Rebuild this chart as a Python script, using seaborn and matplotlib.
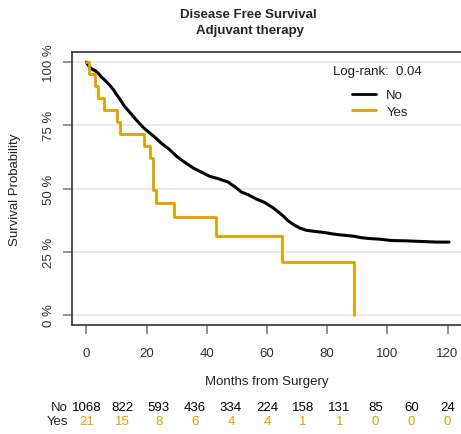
import numpy as np
import pandas as pd
import matplotlib
matplotlib.use("Agg")
import matplotlib.pyplot as plt
import seaborn as sns
from matplotlib.lines import Line2D
from matplotlib.transforms import blended_transform_factory

# ---- data ----
no_time = [0, 0.5, 1.5, 3, 4, 5, 6, 7, 8, 9, 10, 11, 12.6, 14.5, 16.5, 19, 21,
           23, 25, 27.5, 30, 32.5, 35.5, 38, 41, 44, 47, 49.5, 51.5, 54, 56.5,
           59, 62, 64, 65.5, 67, 69, 71, 73, 76, 79, 82, 84, 89, 91, 94, 97,
           101.5, 106, 116.3, 120.5]
no_surv = [1.0, 0.99, 0.975, 0.965, 0.955, 0.94, 0.93, 0.918, 0.905, 0.89,
           0.872, 0.855, 0.826, 0.80, 0.772, 0.740, 0.72, 0.70, 0.678, 0.655,
           0.627, 0.605, 0.581, 0.566, 0.548, 0.538, 0.526, 0.505, 0.486, 0.474,
           0.458, 0.446, 0.424, 0.405, 0.39, 0.372, 0.356, 0.343, 0.335, 0.330,
           0.326, 0.320, 0.317, 0.311, 0.306, 0.302, 0.300, 0.294, 0.293, 0.288,
           0.288]
yes_time = [0, 1, 3, 3.7, 5.7, 10, 11, 19, 21, 22, 23.2, 29, 43, 65, 89]
yes_surv = [1.0, 0.952, 0.905, 0.857, 0.810, 0.762, 0.714, 0.667, 0.619, 0.495,
            0.443, 0.387, 0.312, 0.209, 0.0]

risk_times = [0, 12, 24, 36, 48, 60, 72, 84, 96, 108, 120]
risk_no = [1068, 822, 593, 436, 334, 224, 158, 131, 85, 60, 24]
risk_yes = [21, 15, 8, 6, 4, 4, 1, 1, 0, 0, 0]
groups = ["No", "Yes"]
y_ticks = [0, 0.25, 0.5, 0.75, 1.0]
y_tick_labels = ["0 %", "25 %", "50 %", "75 %", "100 %"]
x_ticks = [0, 20, 40, 60, 80, 100, 120]

df_no = pd.DataFrame({"time": no_time, "surv": no_surv, "group": "No"})
df_yes = pd.DataFrame({"time": yes_time, "surv": yes_surv, "group": "Yes"})

sns.set_style("white")
plt.rcParams["font.family"] = ["Liberation Sans", "DejaVu Sans"]

W, H = 461, 435
fig = plt.figure(figsize=(W / 100, H / 100), dpi=100)
ax = fig.add_axes([72 / W, (H - 326) / H, 390 / W, 273 / H])

colors = {"No": "black", "Yes": "#E69F00"}
# the large group has many tiny steps: drawn as a line through read points
sns.lineplot(data=df_no, x="time", y="surv", color=colors["No"],
             estimator=None, sort=False, linewidth=2.2, ax=ax, zorder=3)
sns.lineplot(data=df_yes, x="time", y="surv", color=colors["Yes"],
             drawstyle="steps-post", estimator=None, sort=False,
             linewidth=2, ax=ax, zorder=3)

ax.set_xlim(-4.8, 124.8)
ax.set_ylim(-0.04, 1.04)
for y in y_ticks:
    ax.axhline(y, color="#E6E6E6", lw=1.2, zorder=1)

ax.set_xticks(x_ticks)
ax.set_xticklabels([str(x) for x in x_ticks])
ax.set_yticks(y_ticks)
ax.set_yticklabels(y_tick_labels, rotation=90, va="center")
ax.tick_params(axis="both", direction="out", length=6.5, width=1.2,
               color="#808080", labelsize=9.5, labelcolor="#333333",
               bottom=True, left=True)
ax.tick_params(axis="x", pad=9)
ax.tick_params(axis="y", pad=6)
ax.set_xlabel("")
ax.set_ylabel("")
for s in ["left", "bottom", "top"]:
    ax.spines[s].set_color("#333333")
    ax.spines[s].set_linewidth(1.2)
ax.spines["right"].set_visible(False)

handles = [Line2D([], [], color=colors[g], lw=2) for g in groups]
ax.legend(handles, groups, loc="upper left",
          bbox_to_anchor=(352 / W, 1 - 90 / H), bbox_transform=fig.transFigure,
          frameon=False, fontsize=9.5, handlelength=1.8, handletextpad=0.8,
          labelspacing=0.35, borderpad=0, borderaxespad=0)

fig.text(333 / W, 1 - 72 / H, "Log-rank:  0.04", fontsize=9.5, color="#222222",
         ha="left", va="center")

fig.text(248 / W, 1 - 15 / H, "Disease Free Survival", fontsize=9.5,
         fontweight="bold", ha="center", va="center")
fig.text(250 / W, 1 - 31 / H, "Adjuvant therapy", fontsize=9.5,
         fontweight="bold", ha="center", va="center")

fig.text(267 / W, 1 - 382 / H, "Months from Surgery", fontsize=9.5,
         ha="center", va="center", color="#222222")
fig.text(15 / W, 1 - 190 / H, "Survival Probability", fontsize=9.5,
         ha="center", va="center", rotation=90, color="#222222")

tr = blended_transform_factory(ax.transData, fig.transFigure)
row_y = {"No": 1 - 408 / H, "Yes": 1 - 422 / H}
fig.text(68 / W, row_y["No"], "No", fontsize=9.5, ha="right", va="center")
fig.text(68 / W, row_y["Yes"], "Yes", fontsize=9.5, ha="right", va="center")
for t, n in zip(risk_times, risk_no):
    ax.text(t, row_y["No"], str(n), transform=tr, fontsize=9.5, ha="center",
            va="center", color="black", clip_on=False)
for t, n in zip(risk_times, risk_yes):
    ax.text(t, row_y["Yes"], str(n), transform=tr, fontsize=9.5, ha="center",
            va="center", color="#E69F00", clip_on=False)

fig.savefig("out.png", dpi=100)
